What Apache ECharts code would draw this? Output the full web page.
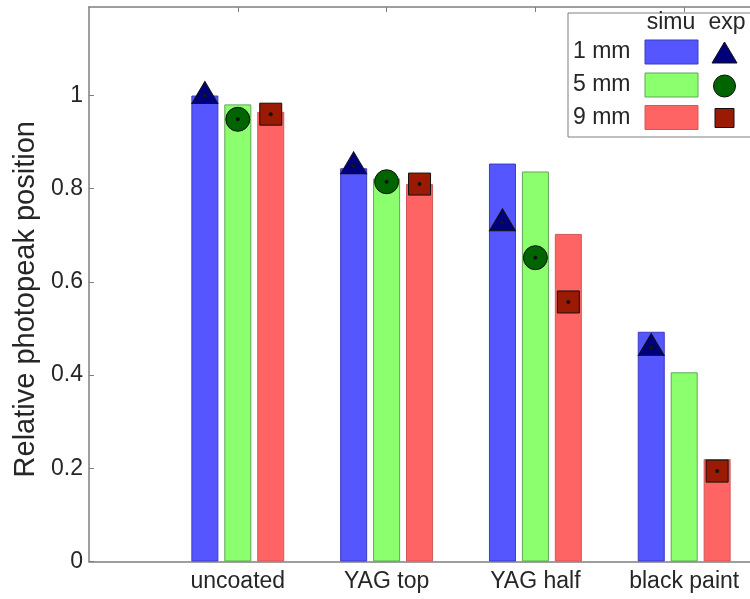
<!DOCTYPE html>
<html>
<head>
<meta charset="utf-8">
<title>Relative photopeak position</title>
<script src="https://cdn.jsdelivr.net/npm/echarts@6/dist/echarts.min.js"></script>
<style>
  html, body { margin: 0; padding: 0; background: #fff; overflow: hidden; }
  /* the axes box runs past the right edge of the page */
  #chart { width: 840px; height: 599px; }
</style>
</head>
<body>
<div id="chart"></div>
<script>
// Surface treatments of the crystal
const categories = ['uncoated', 'YAG top', 'YAG half', 'black paint'];

// Simulated relative photopeak position (bars)
const simu1mm = [1.000, 0.844, 0.854, 0.493];
const simu5mm = [0.981, 0.822, 0.837, 0.406];
const simu9mm = [0.965, 0.810, 0.703, 0.220];

// Measured relative photopeak position (markers); null = not measured
const exp1mm = [1.000, 0.849, 0.727, 0.459];
const exp5mm = [0.949, 0.815, 0.652, null];
const exp9mm = [0.960, 0.810, 0.557, 0.194];

const thicknessNames = ['1 mm', '5 mm', '9 mm'];
const yTicks = [0, 0.2, 0.4, 0.6, 0.8, 1];
const yMax = 1.19;

const FONT = 'Liberation Sans, Arial, Helvetica, sans-serif';
const AXIS_GRAY = '#7f7f7f';
const TEXT = '#262626';

const styles = [
  { bar: '#5656ff', edge: '#3a3ac4', mark: '#00007a', symbol: 'triangle', size: [26, 22], offset: [0, -3] },
  { bar: '#8cff6e', edge: '#62a656', mark: '#006400', symbol: 'circle', size: 24, offset: [0, 0] },
  { bar: '#ff6464', edge: '#d45858', mark: '#9a1a04', symbol: 'rect', size: 22, offset: [0, 0] }
];

// Axis has an empty slot on each side so the groups sit at 1..4
const axisCats = [''].concat(categories, [' ']);
const pad = arr => ['-'].concat(arr, ['-']);

function markers(values, st) {
  const items = [];
  values.forEach((v, i) => {
    if (v === null) return;
    items.push({
      coord: [i + 1, v], symbol: st.symbol, symbolSize: st.size, symbolOffset: st.offset,
      itemStyle: { color: st.mark, borderColor: '#111', borderWidth: 1 }
    });
    items.push({
      coord: [i + 1, v], symbol: 'circle', symbolSize: 4,
      itemStyle: { color: '#141414', borderWidth: 0 }
    });
  });
  return items;
}

const simuAll = [simu1mm, simu5mm, simu9mm];
const expAll = [exp1mm, exp5mm, exp9mm];

const series = simuAll.map((vals, k) => ({
  name: thicknessNames[k],
  type: 'bar',
  data: pad(vals),
  barWidth: 27,
  barGap: '22%',
  itemStyle: { color: styles[k].bar, borderColor: styles[k].edge, borderWidth: 1 },
  emphasis: { disabled: true },
  markPoint: {
    silent: true,
    label: { show: false },
    animation: false,
    data: markers(expAll[k], styles[k])
  }
}));

// Legend table: simu (bar swatch) and exp (marker) per thickness
const legendChildren = [
  { type: 'rect', shape: { x: 568, y: 13, width: 220, height: 124 },
    style: { fill: '#fff', stroke: AXIS_GRAY, lineWidth: 1 } },
  { type: 'text', x: 671, y: 23, style: { text: 'simu', font: '23px ' + FONT, fill: TEXT, align: 'center', verticalAlign: 'middle' } },
  { type: 'text', x: 727, y: 23, style: { text: 'exp', font: '23px ' + FONT, fill: TEXT, align: 'center', verticalAlign: 'middle' } }
];
const rowY = [52, 85, 117.5];
thicknessNames.forEach((name, k) => {
  const st = styles[k];
  legendChildren.push({ type: 'text', x: 573, y: rowY[k], style: { text: name, font: '23px ' + FONT, fill: TEXT, align: 'left', verticalAlign: 'middle' } });
  legendChildren.push({ type: 'rect', shape: { x: 645, y: rowY[k] - 12, width: 53, height: 24 },
    style: { fill: st.bar, stroke: st.edge, lineWidth: 1 } });
});
// marker glyphs in the exp column
legendChildren.push({ type: 'polygon', shape: { points: [[724.5, 42], [737, 63], [712, 63]] },
  style: { fill: styles[0].mark, stroke: '#111', lineWidth: 1 } });
legendChildren.push({ type: 'circle', shape: { cx: 724.5, cy: 86, r: 11 },
  style: { fill: styles[1].mark, stroke: '#111', lineWidth: 1 } });
legendChildren.push({ type: 'rect', shape: { x: 715, y: 108.5, width: 19, height: 19 },
  style: { fill: styles[2].mark, stroke: '#111', lineWidth: 1 } });

const chart = echarts.init(document.getElementById('chart'), null, { renderer: 'canvas' });
chart.setOption({
  animation: false,
  backgroundColor: '#fff',
  textStyle: { fontFamily: FONT },
  grid: { left: 89, top: 7, bottom: 37.5, right: 7, containLabel: false },
  xAxis: [
    {
      type: 'category', position: 'bottom', data: axisCats, boundaryGap: false,
      axisLine: { lineStyle: { color: AXIS_GRAY, width: 1.5 } },
      axisTick: { show: false },
      axisLabel: { color: TEXT, fontSize: 23, margin: 9, interval: 0 },
      splitLine: { show: false }
    },
    {
      type: 'category', position: 'top', data: axisCats, boundaryGap: false,
      axisLine: { lineStyle: { color: AXIS_GRAY, width: 1.5 } },
      axisTick: { inside: true, length: 5, lineStyle: { color: AXIS_GRAY },
        interval: (i, v) => v.trim() !== '' },
      axisLabel: { show: false },
      splitLine: { show: false }
    }
  ],
  yAxis: {
    type: 'value', min: 0, max: yMax, interval: 0.2,
    name: 'Relative photopeak position',
    nameLocation: 'middle', nameGap: 49,
    nameTextStyle: { color: TEXT, fontSize: 29, padding: [0, 30, 0, 0] },
    axisLine: { show: true, lineStyle: { color: AXIS_GRAY, width: 1.5 } },
    axisTick: { show: true, inside: true, length: 5, lineStyle: { color: AXIS_GRAY } },
    axisLabel: {
      color: TEXT, fontSize: 23, margin: 6, showMaxLabel: false,
      formatter: v => {
        const t = yTicks.find(x => Math.abs(x - v) < 1e-6);
        return t === undefined ? '' : String(t);
      }
    },
    splitLine: { show: false }
  },
  series: series,
  graphic: [{ type: 'group', z: 100, children: legendChildren }]
});
</script>
</body>
</html>
